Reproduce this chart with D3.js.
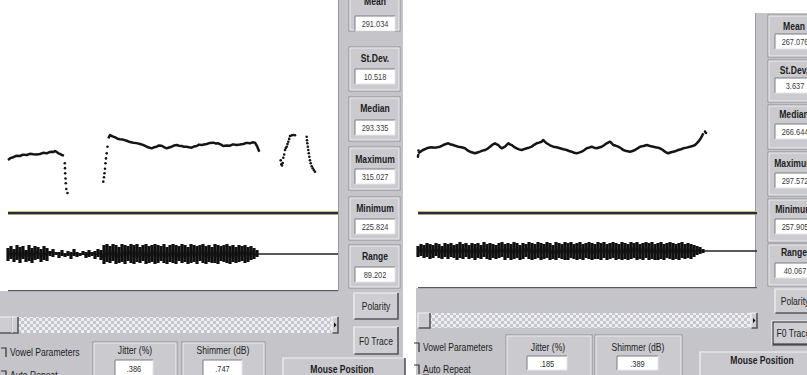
<!DOCTYPE html>
<html><head><meta charset="utf-8">
<script src="https://cdn.jsdelivr.net/npm/d3@7"></script>
<style>body{margin:0;background:#fff}svg{display:block}</style>
</head><body>
<svg id="c" width="807" height="375"></svg>
<script>
// ---------------- DATA ----------------
const statLabels = ["Mean", "St.Dev.", "Median", "Maximum", "Minimum", "Range"];
const statsA = ["291.034", "10.518", "293.335", "315.027", "225.824", "89.202"];
const statsB = ["267.076", "3.637", "266.644", "297.572", "257.905", "40.067"];
const buttonLabels = ["Polarity", "F0 Trace"];
const checkLabels = ["Vowel Parameters", "Auto Repeat"];
const measureLabels = ["Jitter (%)", "Shimmer (dB)"];
const measuresA = [".386", ".747"];
const measuresB = [".185", ".389"];

// F0 trace, recording A (time ms, F0 Hz); line segments separated by null
const f0A_lineT = [0,25,50,80,120,150,187,220,253,285,320,350,387,410,437,455,470,490,503,520,537,560,
  null,
  1003,1020,1045,1070,1095,1120,1150,1187,1220,1253,1285,1320,1350,1387,1410,1437,1460,1487,1510,1537,1560,1587,1610,1637,1660,1687,1710,1737,1760,1787,1810,1837,1860,1887,1910,1937,1960,1987,2020,2053,2080,2103,2130,2153,2185,2220,2250,2287,2320,2353,2385,2420,2445,2470,2493,2513];
const f0A_lineHz = [276.5,279.5,280.7,282.9,282.7,284.8,284.2,286.0,285.3,284.9,285.8,287.6,286.8,288.4,289.3,288.8,290.4,288.7,286.8,285.9,284.2,283.2,
  null,
  309.9,315.0,312.8,311.5,309.3,308.4,307.9,306.2,304.1,303.2,302.5,301.2,299.8,297.0,295.8,294.5,296.1,297.0,298.9,298.5,296.4,294.5,295.7,297.0,298.8,299.6,298.4,298.1,296.8,297.0,296.2,295.5,297.3,298.1,300.2,299.6,300.4,301.2,302.8,303.2,301.9,302.2,300.1,298.1,299.0,298.5,300.6,299.6,300.3,301.2,302.9,302.2,303.8,303.2,297.0,289.3];
const f0A_dotT = [568,570,572,575,578,583,595, 953,960,965,970,975,980,987,995,
  2727,2733,2740,2747,2753,2762,2770,2778,2787,2795,2803,2812,2820,2837,2853,2870,
  2987,2990,2993,2998,3003,3008,3013,3020,3027,3037,3047,3058,3070];
const f0A_dotHz = [271.5,264,256,248,240.7,232,225.8, 243.2,250,256.1,263,271.5,279,286.8,297,
  276,270,268,272,280,285,291.9,295,297,301,304.7,309,313.5,314.5,315,314.6,
  312.4,307,302.2,297,291.9,287,281.6,276,271.5,267,263.8,261,258.5];

// F0 trace, recording B
const f0B_lineT = [3,45,87,130,175,220,253,280,303,330,353,380,403,435,470,495,520,545,570,595,620,645,670,695,720,745,770,787,803,820,837,855,870,887,903,920,937,960,987,1010,1037,1060,1087,1110,1137,1160,1187,1210,1237,1253,1270,1287,1320,1353,1385,1420,1455,1487,1510,1537,1560,1587,1610,1637,1660,1687,1710,1737,1760,1787,1810,1837,1860,1887,1905,1920,1937,1953,1980,2003,2030,2053,2085,2120,2145,2170,2195,2220,2255,2287,2320,2353,2385,2420,2445,2470,2487,2503,2530,2553,2580,2603,2630,2653,2685,2720,2745,2770,2787,2803,2820,2837,2853];
const f0B_lineHz = [261.0,266.5,270.0,271.8,271.2,272.9,275.9,277.8,279.0,276.8,275.9,274.0,272.9,271.9,270.0,266.2,263.9,262.5,261.0,262.4,263.9,265.8,266.9,269.2,272.9,276.5,279.0,277.1,275.9,272.5,270.0,271.8,272.9,276.0,279.0,277.2,275.9,272.6,270.0,268.1,266.9,268.4,270.0,271.1,272.9,276.3,279.0,280.2,281.9,285.0,281.6,279.0,275.4,272.9,271.8,270.0,268.2,266.9,265.1,263.9,262.0,261.0,262.2,263.9,266.5,270.0,271.3,272.9,271.1,270.0,271.5,272.9,275.6,279.0,280.6,281.9,279.1,275.9,274.5,272.9,270.1,266.9,265.0,263.9,265.2,266.9,269.8,272.9,274.2,275.9,274.1,272.9,271.6,270.0,267.4,263.9,262.0,261.0,262.8,263.9,265.2,266.9,268.3,270.0,271.2,272.9,274.0,275.9,278.8,281.9,286.0,290.9,297.0];
const f0B_dotT = [0,2,5,2870,2880];
const f0B_dotHz = [255,258,266,300,297.6];

// Waveform envelopes (30 ms columns): positive peak / negative peak
const waveA_up = [6,8,5,9,7,8,4,9,6,8,7,5,8,6,
  3,5,2,2,4,1,3,2,5,2,1,3,2,4,2,3,5,4,
  9,10,8,10,9,7,10,9,8,10,9,10,7,9,10,8,9,10,9,8,10,7,9,10,9,8,10,9,7,10,9,8,9,10,8,9,7,10,9,8,9,10,8,9,7,9,8,9,7,8,6,4];
const waveA_dn = [7,5,8,6,9,5,8,7,9,6,5,8,6,7,
  2,3,1,4,2,3,2,5,2,3,2,1,4,3,2,5,3,6,
  10,8,9,7,10,9,8,10,7,9,10,8,9,7,10,9,8,10,9,7,9,10,8,9,10,7,9,8,10,9,8,10,7,9,10,8,9,9,10,7,8,9,10,8,9,8,7,9,8,6,5,3];
const waveB_up = [5,7,6,8,7,6,8,7,5,8,7,8,6,7,9,7,8,6,8,7,8,6,9,7,8,7,6,8,9,7,8,7,9,8,6,8,7,9,8,7,9,8,7,9,8,6,9,8,7,9,8,9,7,8,9,7,8,9,8,7,9,8,9,7,8,9,8,7,9,8,7,9,8,9,7,8,9,8,9,7,8,9,7,8,9,8,7,8,9,7,8,7,6,5,4,2];
const waveB_dn = [6,5,7,6,8,7,5,7,8,6,8,6,7,9,7,8,6,8,7,9,7,8,6,8,9,7,8,7,6,9,7,9,8,7,9,8,6,8,9,8,7,9,8,7,9,8,9,7,8,9,9,7,8,9,8,9,7,8,9,8,8,9,7,9,8,7,9,8,9,8,9,8,7,9,8,9,7,9,8,9,9,8,9,7,8,9,8,9,7,8,7,8,6,4,3,2];
const waveStepMs = 30;

// ---------------- LAYOUT ----------------
const FONT = "'Liberation Sans',Arial,sans-serif";
const SX = 0.78;
const GRAY = "#c4c4c9";
const svg = d3.select("#c");
const defs = svg.append("defs");
const pat = defs.append("pattern").attr("id", "chk").attr("width", 6).attr("height", 6)
  .attr("patternUnits", "userSpaceOnUse");
pat.append("rect").attr("width", 6).attr("height", 6).attr("fill", "#eeeef2");
pat.append("rect").attr("width", 3).attr("height", 3).attr("fill", "#c6c6ce");
pat.append("rect").attr("x", 3).attr("y", 3).attr("width", 3).attr("height", 3).attr("fill", "#c6c6ce");

function raised(g, x, y, w, h, fill) {
  g.append("rect").attr("x", x).attr("y", y).attr("width", w).attr("height", h).attr("fill", fill || "#cdcdd2");
  g.append("path").attr("d", `M${x},${y + h}V${y}H${x + w}`).attr("fill", "none").attr("stroke", "#f4f4f6").attr("stroke-width", 1.2);
  g.append("path").attr("d", `M${x + 0.5},${y + h}H${x + w}V${y}`).attr("fill", "none").attr("stroke", "#55555c").attr("stroke-width", 1.6);
}
function etched(g, x, y, w, h) {
  g.append("rect").attr("x", x).attr("y", y).attr("width", w).attr("height", h).attr("fill", "#cacacf")
    .attr("stroke", "#8d8d94").attr("stroke-width", 1);
  g.append("rect").attr("x", x + 1).attr("y", y + 1).attr("width", w - 2).attr("height", h - 2).attr("fill", "none")
    .attr("stroke", "#ececf0").attr("stroke-width", 1);
}
function sunken(g, x, y, w, h) {
  g.append("rect").attr("x", x).attr("y", y).attr("width", w).attr("height", h).attr("fill", "#ffffff");
  g.append("path").attr("d", `M${x},${y + h}V${y}H${x + w}`).attr("fill", "none").attr("stroke", "#7c7c84").attr("stroke-width", 1);
  g.append("path").attr("d", `M${x},${y + h}H${x + w}V${y}`).attr("fill", "none").attr("stroke", "#e6e6ea").attr("stroke-width", 1);
}
function text(g, x, y, s, size, weight, color, anchor) {
  return g.append("text").attr("transform", `translate(${x},${y}) scale(${SX},1)`)
    .attr("font-family", FONT).attr("font-size", size)
    .attr("font-weight", weight || "normal").attr("fill", color || "#222")
    .attr("text-anchor", anchor || "middle").attr("dominant-baseline", "central").text(s);
}

const panels = [
  {
    stats: statsA, measures: measuresA,
    f0: { lineT: f0A_lineT, lineHz: f0A_lineHz, dotT: f0A_dotT, dotHz: f0A_dotHz },
    wave: { up: waveA_up, dn: waveA_dn },
    plotX: [8, 338], tMax: 3300, yRange: [209.75, 1.75],
    divY: 212, waveC: 254, plotBottom: 291,
    side: { x: 338, w: 65, top: -5, gx: 349, gw: 51, vx: 355, vw: 40, cx: 375 },
    groups: [[-10, 41, 1, 16], [47, 44, 58, 69], [97, 44, 108, 120], [147, 43, 159, 169], [197, 43, 208, 219], [245, 43, 256, 267]],
    vh: 15,
    buttons: [[354, 293, 44, 26], [354, 327, 44, 27]],
    gray: [0, 403], scroll: { y: 317, h: 16, x0: 0, x1: 338, btn: 12, thumb: 6 },
    checks: { x: 10, y: [352, 375] },
    mboxes: [[93, 342, 84, 40, 135, 350, 115, 360, 38, 16], [182, 342, 83, 40, 223, 350, 203, 360, 39, 16]],
    mouse: [283, 358, 122, 30, 342, 369]
  },
  {
    stats: statsB, measures: measuresB,
    f0: { lineT: f0B_lineT, lineHz: f0B_lineHz, dotT: f0B_dotT, dotHz: f0B_dotHz },
    wave: { up: waveB_up, dn: waveB_dn },
    plotX: [418, 757], tMax: 3390, yRange: [187.15, 9.55],
    divY: 212, waveC: 251, plotBottom: 288,
    side: { x: 755, w: 60, top: 13, gx: 768, gw: 52, vx: 775, vw: 40, cx: 794 },
    groups: [[15, 42, 26, 34], [60, 42, 70, 78], [105, 44, 114, 124], [152, 44, 163, 173], [199, 43, 209, 219], [244, 42, 252, 263]],
    vh: 15,
    buttons: [[775, 289, 40, 24], [772, 321, 43, 24]],
    gray: [416, 807], scroll: { y: 313, h: 15, x0: 418, x1: 757, btn: 0, thumb: 12 },
    checks: { x: 423, y: [347, 369] },
    mboxes: [[506, 335, 86, 45, 548, 347, 527, 356, 40, 14], [595, 335, 87, 45, 638, 347, 617, 356, 41, 14]],
    mouse: [700, 352, 115, 30, 762, 360]
  }
];

panels.forEach((P, pi) => {
  const g = svg.append("g");
  // gray bottom region
  g.append("rect").attr("x", P.gray[0]).attr("y", P.plotBottom).attr("width", P.side.x - P.gray[0] + 1)
    .attr("height", 375 - P.plotBottom).attr("fill", GRAY);
  // side bar
  g.append("rect").attr("x", P.side.x).attr("y", P.side.top).attr("width", P.side.w)
    .attr("height", 380 - P.side.top).attr("fill", GRAY);
  g.append("line").attr("x1", P.side.x + 0.5).attr("x2", P.side.x + 0.5).attr("y1", P.side.top).attr("y2", P.plotBottom)
    .attr("stroke", "#9a9aa2");

  // scales
  const x = d3.scaleLinear().domain([0, P.tMax]).range(P.plotX);
  const y = d3.scaleLinear().domain([200, 520]).range(P.yRange);
  const yW = d3.scaleLinear().domain([-40, 40]).range([P.waveC + 40, P.waveC - 40]);

  // divider between F0 and waveform
  g.append("rect").attr("x", P.plotX[0]).attr("y", P.divY - 1).attr("width", P.plotX[1] - P.plotX[0]).attr("height", 1).attr("fill", "#c9bd6a");
  g.append("rect").attr("x", P.plotX[0]).attr("y", P.divY).attr("width", P.plotX[1] - P.plotX[0]).attr("height", 2.2).attr("fill", "#2b2d3e");
  g.append("rect").attr("x", P.plotX[0]).attr("y", P.divY + 2.2).attr("width", P.plotX[1] - P.plotX[0]).attr("height", 0.8).attr("fill", "#9a9478");
  // bottom border of plot
  g.append("rect").attr("x", P.plotX[0]).attr("y", P.plotBottom - 1).attr("width", P.plotX[1] - P.plotX[0]).attr("height", 1.2).attr("fill", "#5a5a5e");

  // waveform
  const cols = P.wave.up.map((u, i) => ({ t: i * waveStepMs, u, d: P.wave.dn[i] }));
  const lastT = (cols.length - 1) * waveStepMs;
  g.append("line").attr("x1", x(lastT)).attr("x2", P.plotX[1]).attr("y1", yW(0)).attr("y2", yW(0))
    .attr("stroke", "#222").attr("stroke-width", 1.3);
  g.append("g").selectAll("rect").data(cols).join("rect")
    .attr("x", d => x(d.t) - 1.6).attr("width", 3.2)
    .attr("y", d => yW(d.u)).attr("height", d => yW(-d.d) - yW(d.u))
    .attr("fill", "#111");
  g.append("path").datum(cols).attr("fill", "none").attr("stroke", "#111").attr("stroke-width", 1)
    .attr("d", d3.line().x(d => x(d.t)).y((d, i) => yW(i % 2 ? d.u * 0.7 : -d.d * 0.7)));

  // F0 trace
  const lineData = P.f0.lineT.map((t, i) => ({ t, hz: P.f0.lineHz[i] }));
  g.append("path").datum(lineData).attr("fill", "none").attr("stroke", "#151515").attr("stroke-width", 2.5)
    .attr("stroke-linejoin", "round")
    .attr("d", d3.line().defined(d => d.t !== null).x(d => x(d.t)).y(d => y(d.hz)));
  const dotData = P.f0.dotT.map((t, i) => ({ t, hz: P.f0.dotHz[i] }));
  g.append("g").selectAll("circle").data(dotData).join("circle")
    .attr("cx", d => x(d.t)).attr("cy", d => y(d.hz)).attr("r", 1.3).attr("fill", "#151515");

  // stat groups
  P.groups.forEach((gr, i) => {
    const [gy, gh, ly, vy] = gr;
    etched(g, P.side.gx, gy, P.side.gw, gh);
    text(g, P.side.cx, ly, statLabels[i], 11, "bold", "#1e1e24");
    sunken(g, P.side.vx, vy, P.side.vw, P.vh);
    text(g, P.side.vx + P.side.vw / 2, vy + P.vh / 2 + 0.5, P.stats[i], 9.5, "normal", "#3a3a40");
  });
  // buttons
  P.buttons.forEach((b, i) => {
    raised(g, b[0], b[1], b[2], b[3]);
    if (pi === 1 && i === 1) g.append("rect").attr("x", b[0] + 1).attr("y", b[1] + 1).attr("width", b[2] - 2).attr("height", b[3] - 2)
      .attr("fill", "none").attr("stroke", "#222").attr("stroke-width", 1);
    text(g, b[0] + b[2] / 2, b[1] + b[3] / 2 + 0.5, buttonLabels[i], 11, "normal", "#222");
  });

  // scrollbar
  const S = P.scroll;
  g.append("rect").attr("x", S.x0).attr("y", S.y).attr("width", S.x1 - S.x0).attr("height", S.h).attr("fill", "url(#chk)");
  if (S.btn) { raised(g, S.x0 - 2, S.y, S.btn + 2, S.h); }
  raised(g, S.x0 + S.btn, S.y, S.thumb, S.h);
  raised(g, S.x1 - 6, S.y, 6, S.h);
  g.append("path").attr("d", `M${S.x1 - 4},${S.y + S.h / 2 - 2.5}l2.5,2.5l-2.5,2.5z`).attr("fill", "#111");

  // checkboxes
  checkLabels.forEach((c, i) => {
    const cy = P.checks.y[i];
    g.append("path").attr("d", `M${P.checks.x - 9},${cy - 4}h5v9`).attr("fill", "none").attr("stroke", "#333").attr("stroke-width", 1.2);
    text(g, P.checks.x, cy, c, 11, "normal", "#1e1e24", "start");
    if (i === 1) g.append("line").attr("x1", P.checks.x).attr("x2", P.checks.x + 6).attr("y1", cy + 6).attr("y2", cy + 6).attr("stroke", "#222");
  });

  // jitter / shimmer boxes
  P.mboxes.forEach((m, i) => {
    const [bx, by, bw, bh, lx, ly, vx, vy, vw, vh] = m;
    etched(g, bx, by, bw, bh);
    text(g, lx, ly, measureLabels[i], 11, "normal", "#1e1e24");
    sunken(g, vx, vy, vw, vh);
    text(g, vx + vw / 2, vy + vh / 2 + 0.5, P.measures[i], 9.5, "normal", "#2a2a30");
  });
  // mouse position
  const M = P.mouse;
  raised(g, M[0], M[1], M[2], M[3], "#c9c9ce");
  text(g, M[4], M[5], "Mouse Position", 11, "bold", "#1e1e24");
});
</script>
</body></html>
